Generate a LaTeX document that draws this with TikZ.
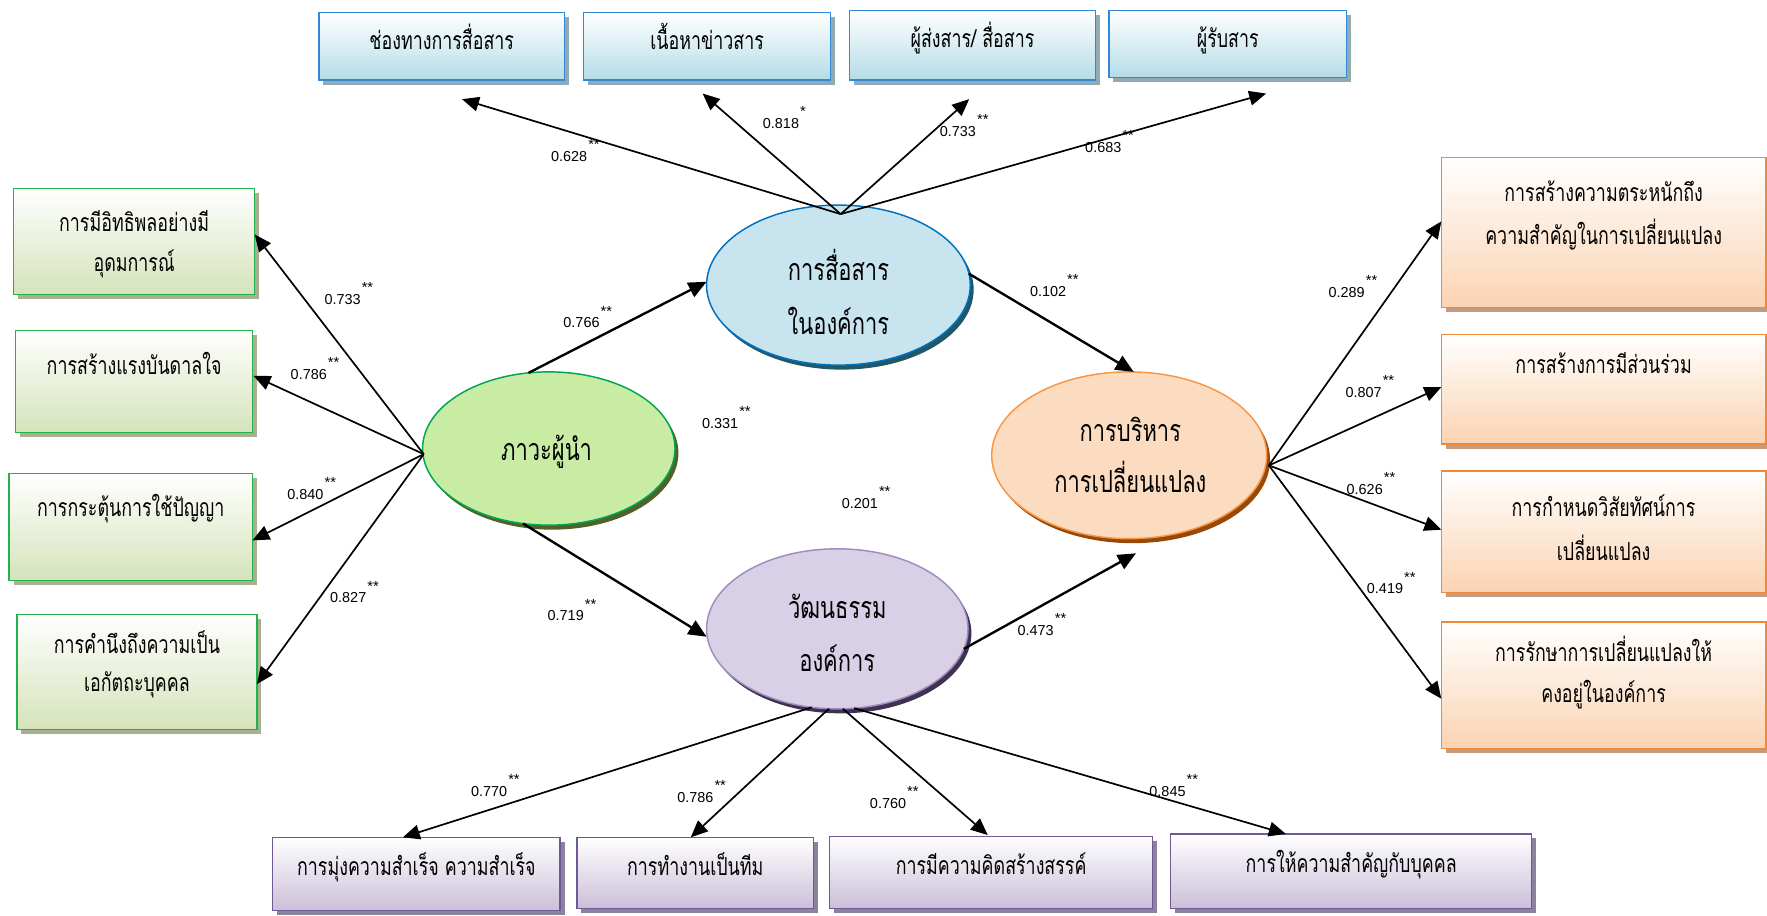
\documentclass[tikz,border=0pt]{standalone}
\usepackage{fontspec}
\setmainfont{Liberation Sans}
\newfontfamily\thaifont[Script=Thai,FakeStretch=0.72]{Loma}
\usetikzlibrary{shapes.geometric,calc,arrows.meta,shadows}

% box colours
\definecolor{bBorder}{RGB}{50,135,215}
\definecolor{bFill}{RGB}{180,220,232}
\definecolor{bShadow}{RGB}{146,170,178}
\definecolor{gBorder}{RGB}{34,177,76}
\definecolor{gFill}{RGB}{213,227,186}
\definecolor{gShadow}{RGB}{168,176,146}
\definecolor{oBorder}{RGB}{240,136,55}
\definecolor{oFill}{RGB}{251,211,178}
\definecolor{oShadow}{RGB}{196,155,128}
\definecolor{pBorder}{RGB}{112,88,150}
\definecolor{pFill}{RGB}{202,191,217}
\definecolor{pShadow}{RGB}{140,130,158}
% latent variable colours
\definecolor{leadFill}{RGB}{200,236,164}
\definecolor{leadLine}{RGB}{0,166,80}
\definecolor{leadShadow}{RGB}{79,98,40}
\definecolor{commFill}{RGB}{200,228,238}
\definecolor{commLine}{RGB}{0,112,192}
\definecolor{commShadow}{RGB}{33,88,104}
\definecolor{chgFill}{RGB}{251,220,192}
\definecolor{chgLine}{RGB}{247,150,70}
\definecolor{chgShadow}{RGB}{152,72,7}
\definecolor{cultFill}{RGB}{216,208,230}
\definecolor{cultLine}{RGB}{160,140,190}
\definecolor{cultShadow}{RGB}{63,49,81}

% path coefficient with significance stars
\newcommand\coef[2]{#1\hspace{1pt}\raisebox{10.5pt}{\fontsize{13}{13}\selectfont #2}}

\begin{document}
\begin{tikzpicture}[x=1pt,y=-1pt,
  every node/.style={inner sep=0pt,outer sep=0pt},
  box/.style={draw,line width=1.1pt,shading=axis,top color=white},
  bluebox/.style={box,draw=bBorder,bottom color=bFill,
    drop shadow={shadow xshift=4pt,shadow yshift=-4pt,fill=bShadow,opacity=1}},
  greenbox/.style={box,draw=gBorder,bottom color=gFill,
    drop shadow={shadow xshift=4pt,shadow yshift=-4pt,fill=gShadow,opacity=1}},
  orangebox/.style={box,draw=oBorder,bottom color=oFill,
    drop shadow={shadow xshift=4pt,shadow yshift=-4pt,fill=oShadow,opacity=1}},
  purplebox/.style={box,draw=pBorder,bottom color=pFill,
    drop shadow={shadow xshift=4pt,shadow yshift=-4pt,fill=pShadow,opacity=1}},
  latent/.style={ellipse,line width=1.3pt},
  ttext/.style={font=\thaifont\fontsize{22}{22}\selectfont,anchor=base},
  etext/.style={font=\thaifont\fontsize{27}{27}\selectfont,anchor=base},
  num/.style={font=\fontsize{12.8}{14}\selectfont,anchor=base west},
  arr/.style={line width=1.5pt,-{Triangle[length=15pt,width=13pt]}},
  arrB/.style={line width=2.1pt,-{Triangle[length=16pt,width=14pt]}}
]
\useasboundingbox (0,0) rectangle (1568,812);
\fill[white] (0,0) rectangle (1568,812);

% ---- observed indicators: communication (top)
\node[bluebox,minimum width=218pt,minimum height=60pt] (t1) at (392,41) {};
\node[bluebox,minimum width=219pt,minimum height=60pt] (t2) at (627.5,41) {};
\node[bluebox,minimum width=218pt,minimum height=62pt] (t3) at (863,40) {};
\node[bluebox,minimum width=211pt,minimum height=60pt] (t4) at (1089.5,39) {};
\node[ttext] (t1x) at (392,44) {ช่องทางการสื่อสาร};
\node[ttext] (t2x) at (627.5,44) {เนื้อหาข่าวสาร};
\node[ttext] (t3x) at (863,42) {ผู้ส่งสาร/ สื่อสาร};
\node[ttext] (t4x) at (1089.5,42) {ผู้รับสาร};

% ---- observed indicators: leadership (left)
\node[greenbox,minimum width=214pt,minimum height=94pt] (l1) at (119,214) {};
\node[greenbox,minimum width=210pt,minimum height=91pt] (l2) at (119,338.5) {};
\node[greenbox,minimum width=216pt,minimum height=95pt] (l3) at (116,467.5) {};
\node[greenbox,minimum width=213pt,minimum height=102pt] (l4) at (121.5,596) {};
\node[ttext] (l1x) at (119,205) {การมีอิทธิพลอย่างมี};
\node[ttext] (l1y) at (119,241) {อุดมการณ์};
\node[ttext] (l2x) at (119,332) {การสร้างแรงบันดาลใจ};
\node[ttext] (l3x) at (116,458) {การกระตุ้นการใช้ปัญญา};
\node[ttext] (l4x) at (121.5,580) {การคำนึงถึงความเป็น};
\node[ttext] (l4y) at (121.5,614) {เอกัตถะบุคคล};

% ---- observed indicators: change management (right)
\node[orangebox,minimum width=288pt,minimum height=133pt] (r1) at (1423,206.5) {};
\node[orangebox,minimum width=288pt,minimum height=97pt] (r2) at (1423,345.5) {};
\node[orangebox,minimum width=288pt,minimum height=108pt] (r3) at (1423,472) {};
\node[orangebox,minimum width=288pt,minimum height=112pt] (r4) at (1423,608) {};
\node[ttext] (r1x) at (1423,179) {การสร้างความตระหนักถึง};
\node[ttext] (r1y) at (1423,217) {ความสำคัญในการเปลี่ยนแปลง};
\node[ttext] (r2x) at (1423,331) {การสร้างการมีส่วนร่วม};
\node[ttext] (r3x) at (1423,458) {การกำหนดวิสัยทัศน์การ};
\node[ttext] (r3y) at (1423,497) {เปลี่ยนแปลง};
\node[ttext] (r4x) at (1423,587) {การรักษาการเปลี่ยนแปลงให้};
\node[ttext] (r4y) at (1423,623) {คงอยู่ในองค์การ};

% ---- observed indicators: culture (bottom)
\node[purplebox,minimum width=255pt,minimum height=65pt] (b1) at (369.5,775.5) {};
\node[purplebox,minimum width=210pt,minimum height=63pt] (b2) at (617,774.5) {};
\node[purplebox,minimum width=287pt,minimum height=64pt] (b3) at (879.5,774) {};
\node[purplebox,minimum width=320pt,minimum height=66pt] (b4) at (1199,773) {};
\node[ttext] (b1x) at (369.5,777) {การมุ่งความสำเร็จ ความสำเร็จ};
\node[ttext] (b2x) at (617,777) {การทำงานเป็นทีม};
\node[ttext] (b3x) at (879.5,776) {การมีความคิดสร้างสรรค์};
\node[ttext] (b4x) at (1199,774) {การให้ความสำคัญกับบุคคล};

% ---- latent variables
\node[latent,draw=leadLine,fill=leadFill,minimum width=224pt,minimum height=136pt,
  drop shadow={shadow xshift=3pt,shadow yshift=-4pt,fill=leadShadow,opacity=1}] (lead) at (487,398) {};
\node[latent,draw=commLine,fill=commFill,minimum width=234pt,minimum height=142pt,
  drop shadow={shadow xshift=3pt,shadow yshift=-4pt,fill=commShadow,opacity=1}] (comm) at (744,253) {};
\node[latent,draw=chgLine,fill=chgFill,minimum width=244pt,minimum height=148pt,
  drop shadow={shadow xshift=3pt,shadow yshift=-4pt,fill=chgShadow,opacity=1}] (chg) at (1002,404) {};
\node[latent,draw=cultLine,fill=cultFill,minimum width=232pt,minimum height=142pt,
  drop shadow={shadow xshift=3pt,shadow yshift=-4pt,fill=cultShadow,opacity=1}] (cult) at (743,558) {};
\node[etext] (leadx) at (485,409) {ภาวะผู้นำ};
\node[etext] (commx) at (744,249) {การสื่อสาร};
\node[etext] (commy) at (744,297) {ในองค์การ};
\node[etext] (chgx) at (1003,392) {การบริหาร};
\node[etext] (chgy) at (1003,437) {การเปลี่ยนแปลง};
\node[etext] (cultx) at (743,549) {วัฒนธรรม};
\node[etext] (culty) at (743,596) {องค์การ};

% ---- hub points where the loading arrows meet
\coordinate (H1) at ($(comm.north)+(2,8)$);
\coordinate (H2) at ($(lead.west)+(1,5)$);
\coordinate (H3) at ($(chg.east)+(2,9)$);

% ---- loadings
\draw[arr] (H1) -- ($(t1.south)+(18,17)$);
\draw[arr] (H1) -- ($(t2.south)+(-4,12)$);
\draw[arr] (H1) -- ($(t3.south)+(-3,17)$);
\draw[arr] (H1) -- ($(t4.south)+(34,14)$);

\draw[arr] (H2) -- ($(l1.east)+(0,-6)$);
\draw[arr] (H2) -- ($(l2.east)+(1,-5)$);
\draw[arr] (H2) -- ($(l3.east)+(0,12)$);
\draw[arr] (H2) -- ($(l4.east)+(0,11)$);

\draw[arr] (H3) -- ($(r1.west)+(0,-10)$);
\draw[arr] (H3) -- ($(r2.west)+(0,-2)$);
\draw[arr] (H3) -- ($(r3.west)+(0,-2)$);
\draw[arr] (H3) -- ($(r4.west)+(0,12)$);

\draw[arr] (cult.-108) -- ($(b1.north)+(-12,0)$);
\draw[arr] (cult.-96) -- ($(b2.north)+(-4,0)$);
\draw[arr] (cult.-86) -- ($(b3.north)+(-3,-1)$);
\draw[arr] (cult.-78) -- ($(b4.north)+(-58,0)$);

% ---- structural paths
\draw[arrB] (lead.105) -- ($(comm.west)+(0,-3)$);
\draw[arrB] (lead.-109) -- ($(cult.west)+(0,7)$);
\draw[arrB] (comm.5) -- ($(chg.north)+(4,0)$);
\draw[arrB] (cult.-9) -- ($(chg.south)+(6,13)$);

% ---- coefficients
\node[num] (c1) at (489,143) {\coef{0.628}{**}};
\node[num] (c2) at (677,114) {\coef{0.818}{*}};
\node[num] (c3) at (834,121) {\coef{0.733}{**}};
\node[num] (c4) at (963,135) {\coef{0.683}{**}};
\node[num] (c5) at (288,270) {\coef{0.733}{**}};
\node[num] (c6) at (258,337) {\coef{0.786}{**}};
\node[num] (c7) at (255,443) {\coef{0.840}{**}};
\node[num] (c8) at (293,535) {\coef{0.827}{**}};
\node[num] (c9) at (500,291) {\coef{0.766}{**}};
\node[num] (c10) at (486,551) {\coef{0.719}{**}};
\node[num] (c11) at (623,380) {\coef{0.331}{**}};
\node[num] (c12) at (747,451) {\coef{0.201}{**}};
\node[num] (c13) at (914,263) {\coef{0.102}{**}};
\node[num] (c14) at (903,564) {\coef{0.473}{**}};
\node[num] (c15) at (1179,264) {\coef{0.289}{**}};
\node[num] (c16) at (1194,353) {\coef{0.807}{**}};
\node[num] (c17) at (1195,439) {\coef{0.626}{**}};
\node[num] (c18) at (1213,527) {\coef{0.419}{**}};
\node[num] (c19) at (418,707) {\coef{0.770}{**}};
\node[num] (c20) at (601,712) {\coef{0.786}{**}};
\node[num] (c21) at (772,717) {\coef{0.760}{**}};
\node[num] (c22) at (1020,707) {\coef{0.845}{**}};
\end{tikzpicture}
\end{document}
